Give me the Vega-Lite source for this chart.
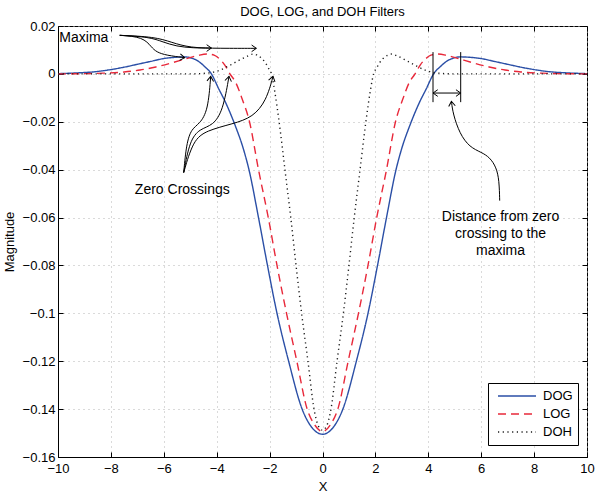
{
  "$schema": "https://vega.github.io/schema/vega-lite/v6.json",
  "width": 529,
  "height": 431,
  "autosize": {"type": "none"},
  "padding": {"left": 58, "top": 26, "right": 13, "bottom": 35},
  "background": "white",
  "title": {"text": "DOG, LOG, and DOH Filters", "fontSize": 13, "fontWeight": "normal", "font": "Liberation Sans", "color": "black", "offset": 1},
  "config": {
    "font": "Liberation Sans",
    "view": {"stroke": "black", "strokeWidth": 1},
    "axis": {"domainColor": "black", "tickColor": "black", "labelColor": "black", "titleColor": "black", "labelFontSize": 13, "titleFontSize": 13, "titleFontWeight": "normal", "gridColor": "#b5b5b5", "gridDash": [1, 4], "tickSize": -5, "labelFlush": false, "labelOverlap": false, "labelFont": "Liberation Sans", "titleFont": "Liberation Sans"}
  },
  "datasets": {
    "curves": [
      {"f": "DOG", "x": -10, "y": 0.0001}, {"f": "DOG", "x": -9.3, "y": 0.0004}, {"f": "DOG", "x": -8.6, "y": 0.0009}, {"f": "DOG", "x": -8, "y": 0.0018}, {"f": "DOG", "x": -7.5, "y": 0.0028}, {"f": "DOG", "x": -7, "y": 0.004}, {"f": "DOG", "x": -6.5, "y": 0.0052}, {"f": "DOG", "x": -6, "y": 0.0064}, {"f": "DOG", "x": -5.6, "y": 0.0069}, {"f": "DOG", "x": -5.2, "y": 0.0071}, {"f": "DOG", "x": -4.95, "y": 0.0066}, {"f": "DOG", "x": -4.7, "y": 0.0053}, {"f": "DOG", "x": -4.45, "y": 0.003}, {"f": "DOG", "x": -4.2, "y": 0}, {"f": "DOG", "x": -3.92, "y": -0.0063}, {"f": "DOG", "x": -3.67, "y": -0.0118}, {"f": "DOG", "x": -3.3, "y": -0.0216}, {"f": "DOG", "x": -3.0, "y": -0.031}, {"f": "DOG", "x": -2.78, "y": -0.04}, {"f": "DOG", "x": -2.42, "y": -0.06}, {"f": "DOG", "x": -2.08, "y": -0.08}, {"f": "DOG", "x": -1.72, "y": -0.1}, {"f": "DOG", "x": -1.28, "y": -0.12}, {"f": "DOG", "x": -0.77, "y": -0.14}, {"f": "DOG", "x": -0.4, "y": -0.1477}, {"f": "DOG", "x": 0, "y": -0.1505},
      {"f": "DOG", "x": 0.4, "y": -0.1477}, {"f": "DOG", "x": 0.77, "y": -0.14}, {"f": "DOG", "x": 1.28, "y": -0.12}, {"f": "DOG", "x": 1.72, "y": -0.1}, {"f": "DOG", "x": 2.08, "y": -0.08}, {"f": "DOG", "x": 2.42, "y": -0.06}, {"f": "DOG", "x": 2.78, "y": -0.04}, {"f": "DOG", "x": 3.0, "y": -0.031}, {"f": "DOG", "x": 3.3, "y": -0.0216}, {"f": "DOG", "x": 3.67, "y": -0.0118}, {"f": "DOG", "x": 3.92, "y": -0.0063}, {"f": "DOG", "x": 4.2, "y": 0}, {"f": "DOG", "x": 4.45, "y": 0.003}, {"f": "DOG", "x": 4.7, "y": 0.0053}, {"f": "DOG", "x": 4.95, "y": 0.0066}, {"f": "DOG", "x": 5.2, "y": 0.0071}, {"f": "DOG", "x": 5.6, "y": 0.0069}, {"f": "DOG", "x": 6, "y": 0.0064}, {"f": "DOG", "x": 6.5, "y": 0.0052}, {"f": "DOG", "x": 7, "y": 0.004}, {"f": "DOG", "x": 7.5, "y": 0.0028}, {"f": "DOG", "x": 8, "y": 0.0018}, {"f": "DOG", "x": 8.6, "y": 0.0009}, {"f": "DOG", "x": 9.3, "y": 0.0004}, {"f": "DOG", "x": 10, "y": 0.0001},
      {"f": "LOG", "x": -10, "y": 0}, {"f": "LOG", "x": -9, "y": 0.0001}, {"f": "LOG", "x": -8.3, "y": 0.0003}, {"f": "LOG", "x": -7.5, "y": 0.0008}, {"f": "LOG", "x": -6.9, "y": 0.0016}, {"f": "LOG", "x": -6.3, "y": 0.0029}, {"f": "LOG", "x": -5.7, "y": 0.0046}, {"f": "LOG", "x": -5.1, "y": 0.0065}, {"f": "LOG", "x": -4.7, "y": 0.0077}, {"f": "LOG", "x": -4.35, "y": 0.0083}, {"f": "LOG", "x": -4.1, "y": 0.0078}, {"f": "LOG", "x": -3.9, "y": 0.0063}, {"f": "LOG", "x": -3.7, "y": 0.0038}, {"f": "LOG", "x": -3.5, "y": 0}, {"f": "LOG", "x": -3.29, "y": -0.0034}, {"f": "LOG", "x": -3.04, "y": -0.0104}, {"f": "LOG", "x": -2.76, "y": -0.02}, {"f": "LOG", "x": -2.42, "y": -0.04}, {"f": "LOG", "x": -2.05, "y": -0.06}, {"f": "LOG", "x": -1.72, "y": -0.08}, {"f": "LOG", "x": -1.36, "y": -0.1}, {"f": "LOG", "x": -0.97, "y": -0.12}, {"f": "LOG", "x": -0.58, "y": -0.14}, {"f": "LOG", "x": -0.3, "y": -0.1465}, {"f": "LOG", "x": 0, "y": -0.1494},
      {"f": "LOG", "x": 0.3, "y": -0.1465}, {"f": "LOG", "x": 0.58, "y": -0.14}, {"f": "LOG", "x": 0.97, "y": -0.12}, {"f": "LOG", "x": 1.36, "y": -0.1}, {"f": "LOG", "x": 1.72, "y": -0.08}, {"f": "LOG", "x": 2.05, "y": -0.06}, {"f": "LOG", "x": 2.42, "y": -0.04}, {"f": "LOG", "x": 2.76, "y": -0.02}, {"f": "LOG", "x": 3.04, "y": -0.0104}, {"f": "LOG", "x": 3.29, "y": -0.0034}, {"f": "LOG", "x": 3.5, "y": 0}, {"f": "LOG", "x": 3.7, "y": 0.0038}, {"f": "LOG", "x": 3.9, "y": 0.0063}, {"f": "LOG", "x": 4.1, "y": 0.0078}, {"f": "LOG", "x": 4.35, "y": 0.0083}, {"f": "LOG", "x": 4.7, "y": 0.0077}, {"f": "LOG", "x": 5.1, "y": 0.0065}, {"f": "LOG", "x": 5.7, "y": 0.0046}, {"f": "LOG", "x": 6.3, "y": 0.0029}, {"f": "LOG", "x": 6.9, "y": 0.0016}, {"f": "LOG", "x": 7.5, "y": 0.0008}, {"f": "LOG", "x": 8.3, "y": 0.0003}, {"f": "LOG", "x": 9, "y": 0.0001}, {"f": "LOG", "x": 10, "y": 0},
      {"f": "DOH", "x": -10, "y": 0}, {"f": "DOH", "x": -8, "y": 0}, {"f": "DOH", "x": -6, "y": 0}, {"f": "DOH", "x": -5, "y": 0}, {"f": "DOH", "x": -4.3, "y": 0.0004}, {"f": "DOH", "x": -3.9, "y": 0.0015}, {"f": "DOH", "x": -3.5, "y": 0.0036}, {"f": "DOH", "x": -3.15, "y": 0.0057}, {"f": "DOH", "x": -2.8, "y": 0.0076}, {"f": "DOH", "x": -2.62, "y": 0.0083}, {"f": "DOH", "x": -2.48, "y": 0.0079}, {"f": "DOH", "x": -2.3, "y": 0.0065}, {"f": "DOH", "x": -2.15, "y": 0.0045}, {"f": "DOH", "x": -2.05, "y": 0.0025}, {"f": "DOH", "x": -1.93, "y": 0}, {"f": "DOH", "x": -1.81, "y": -0.007}, {"f": "DOH", "x": -1.64, "y": -0.02}, {"f": "DOH", "x": -1.42, "y": -0.04}, {"f": "DOH", "x": -1.2, "y": -0.06}, {"f": "DOH", "x": -1.0, "y": -0.08}, {"f": "DOH", "x": -0.79, "y": -0.1}, {"f": "DOH", "x": -0.55, "y": -0.12}, {"f": "DOH", "x": -0.32, "y": -0.14}, {"f": "DOH", "x": -0.15, "y": -0.1472}, {"f": "DOH", "x": 0, "y": -0.1488},
      {"f": "DOH", "x": 0.15, "y": -0.1472}, {"f": "DOH", "x": 0.32, "y": -0.14}, {"f": "DOH", "x": 0.55, "y": -0.12}, {"f": "DOH", "x": 0.79, "y": -0.1}, {"f": "DOH", "x": 1.0, "y": -0.08}, {"f": "DOH", "x": 1.2, "y": -0.06}, {"f": "DOH", "x": 1.42, "y": -0.04}, {"f": "DOH", "x": 1.64, "y": -0.02}, {"f": "DOH", "x": 1.81, "y": -0.007}, {"f": "DOH", "x": 1.93, "y": 0}, {"f": "DOH", "x": 2.05, "y": 0.0025}, {"f": "DOH", "x": 2.15, "y": 0.0045}, {"f": "DOH", "x": 2.3, "y": 0.0065}, {"f": "DOH", "x": 2.48, "y": 0.0079}, {"f": "DOH", "x": 2.62, "y": 0.0083}, {"f": "DOH", "x": 2.8, "y": 0.0076}, {"f": "DOH", "x": 3.15, "y": 0.0057}, {"f": "DOH", "x": 3.5, "y": 0.0036}, {"f": "DOH", "x": 3.9, "y": 0.0015}, {"f": "DOH", "x": 4.3, "y": 0.0004}, {"f": "DOH", "x": 5, "y": 0}, {"f": "DOH", "x": 6, "y": 0}, {"f": "DOH", "x": 8, "y": 0}, {"f": "DOH", "x": 10, "y": 0}
    ],
    "ann": [
      {"g": "m1", "i": 0, "x": -7.667, "y": 0.01611}, {"g": "m1", "i": 1, "x": -6.784, "y": 0.0154}, {"g": "m1", "i": 2, "x": -6.469, "y": 0.01121}, {"g": "m1", "i": 3, "x": -6.28, "y": 0.00912}, {"g": "m1", "i": 4, "x": -5.902, "y": 0.00774}, {"g": "m1", "i": 5, "x": -5.21, "y": 0.00678},
      {"g": "m2", "i": 0, "x": -7.667, "y": 0.01611}, {"g": "m2", "i": 1, "x": -6.533, "y": 0.0154}, {"g": "m2", "i": 2, "x": -6.03, "y": 0.01331}, {"g": "m2", "i": 3, "x": -5.524, "y": 0.01151}, {"g": "m2", "i": 4, "x": -4.896, "y": 0.0108}, {"g": "m2", "i": 5, "x": -4.2, "y": 0.0108},
      {"g": "m3", "i": 0, "x": -7.667, "y": 0.01611}, {"g": "m3", "i": 1, "x": -6.344, "y": 0.01548}, {"g": "m3", "i": 2, "x": -5.702, "y": 0.01318}, {"g": "m3", "i": 3, "x": -5.021, "y": 0.01088}, {"g": "m3", "i": 4, "x": -3.887, "y": 0.01067}, {"g": "m3", "i": 5, "x": -2.5, "y": 0.01067},
      {"g": "z1", "i": 0, "x": -5.248, "y": -0.04121}, {"g": "z1", "i": 1, "x": -5.146, "y": -0.02921}, {"g": "z1", "i": 2, "x": -4.957, "y": -0.02293}, {"g": "z1", "i": 3, "x": -4.643, "y": -0.02084}, {"g": "z1", "i": 4, "x": -4.329, "y": -0.01527}, {"g": "z1", "i": 5, "x": -4.227, "y": -0.00105},
      {"g": "z2", "i": 0, "x": -5.248, "y": -0.04121}, {"g": "z2", "i": 1, "x": -5.021, "y": -0.02782}, {"g": "z2", "i": 2, "x": -4.643, "y": -0.02293}, {"g": "z2", "i": 3, "x": -4.14, "y": -0.02155}, {"g": "z2", "i": 4, "x": -3.762, "y": -0.01527}, {"g": "z2", "i": 5, "x": -3.535, "y": -0.00105},
      {"g": "z3", "i": 0, "x": -5.248, "y": -0.04121}, {"g": "z3", "i": 1, "x": -4.896, "y": -0.02782}, {"g": "z3", "i": 2, "x": -4.389, "y": -0.02364}, {"g": "z3", "i": 3, "x": -3.384, "y": -0.02084}, {"g": "z3", "i": 4, "x": -2.628, "y": -0.01808}, {"g": "z3", "i": 5, "x": -2.121, "y": -0.01109}, {"g": "z3", "i": 6, "x": -1.871, "y": -0.00105},
      {"g": "d", "i": 0, "x": 6.699, "y": -0.05293}, {"g": "d", "i": 1, "x": 6.68, "y": -0.04456}, {"g": "d", "i": 2, "x": 6.574, "y": -0.03903}, {"g": "d", "i": 3, "x": 6.321, "y": -0.03485}, {"g": "d", "i": 4, "x": 6.008, "y": -0.03276}, {"g": "d", "i": 5, "x": 5.565, "y": -0.03063}, {"g": "d", "i": 6, "x": 5.187, "y": -0.02502}, {"g": "d", "i": 7, "x": 4.934, "y": -0.01665}, {"g": "d", "i": 8, "x": 4.874, "y": -0.01151}
    ],
    "heads": [
      {"x": -5.21, "y": 0.00678, "a": 7},
      {"x": -4.2, "y": 0.0108, "a": 0},
      {"x": -2.5, "y": 0.01067, "a": 0},
      {"x": -4.227, "y": -0.00105, "a": -85},
      {"x": -3.535, "y": -0.00105, "a": -80},
      {"x": -1.871, "y": -0.00105, "a": -75},
      {"x": 4.874, "y": -0.01151, "a": -97},
      {"x": 4.178, "y": -0.008, "a": 180},
      {"x": 5.225, "y": -0.008, "a": 0}
    ],
    "segs": [
      {"x": 4.178, "x2": 4.178, "y": 0.0091, "y2": -0.0118},
      {"x": 5.225, "x2": 5.225, "y": 0.0091, "y2": -0.0118},
      {"x": 4.178, "x2": 5.225, "y": -0.008, "y2": -0.008}
    ],
    "labelsLeft": [
      {"x": -9.95, "y": 0.015, "t": "Maxima"}
    ],
    "labelsCenter": [
      {"x": -5.3, "y": -0.0483, "t": "Zero Crossings"},
      {"x": 6.73, "y": -0.0596, "t": "Distance from zero"},
      {"x": 6.73, "y": -0.0669, "t": "crossing to the"},
      {"x": 6.73, "y": -0.0741, "t": "maxima"}
    ]
  },
  "layer": [
    {
      "data": {"name": "curves"},
      "mark": {"type": "line", "interpolate": "monotone", "strokeWidth": 1.4},
      "encoding": {
        "x": {"field": "x", "type": "quantitative", "scale": {"domain": [-10, 10], "nice": false}, "axis": {"values": [-10, -8, -6, -4, -2, 0, 2, 4, 6, 8, 10], "title": "X", "grid": true, "labelPadding": 10, "titlePadding": 5}},
        "y": {"field": "y", "type": "quantitative", "scale": {"domain": [-0.16, 0.02], "nice": false, "zero": false}, "axis": {"values": [-0.16, -0.14, -0.12, -0.1, -0.08, -0.06, -0.04, -0.02, 0, 0.02], "format": "~g", "title": "Magnitude", "grid": true, "labelPadding": 8, "titlePadding": 6}},
        "color": {"field": "f", "type": "nominal", "scale": {"domain": ["DOG", "LOG", "DOH"], "range": ["#2b4fa6", "#e8283a", "#1a1a1a"]}, "legend": {"title": null, "orient": "none", "legendX": 430, "legendY": 357, "symbolType": "stroke", "symbolSize": 1444, "symbolStrokeWidth": 1.4, "labelFontSize": 13, "labelColor": "black", "strokeColor": "black", "fillColor": "white", "padding": 5, "symbolOffset": 4, "labelOffset": 6, "clipHeight": 16, "rowPadding": 2}},
        "strokeDash": {"field": "f", "type": "nominal", "scale": {"domain": ["DOG", "LOG", "DOH"], "range": [[1, 0], [8, 5], [1.2, 3.5]]}, "legend": {"title": null, "orient": "none", "legendX": 430, "legendY": 357, "symbolType": "stroke", "symbolSize": 1444, "symbolStrokeWidth": 1.4, "labelFontSize": 13, "labelColor": "black", "strokeColor": "black", "fillColor": "white", "padding": 5, "symbolOffset": 4, "labelOffset": 6, "clipHeight": 16, "rowPadding": 2}}
      }
    },
    {
      "data": {"name": "curves"},
      "mark": {"type": "point", "opacity": 0},
      "encoding": {
        "x": {"field": "x", "type": "quantitative", "axis": {"orient": "top", "values": [-10, -8, -6, -4, -2, 0, 2, 4, 6, 8, 10], "labels": false, "title": null, "grid": false, "domain": false}},
        "y": {"field": "y", "type": "quantitative", "axis": {"orient": "right", "values": [-0.16, -0.14, -0.12, -0.1, -0.08, -0.06, -0.04, -0.02, 0, 0.02], "labels": false, "title": null, "grid": false, "domain": false}}
      }
    },
    {
      "data": {"name": "ann"},
      "mark": {"type": "line", "interpolate": "basis", "color": "black", "strokeWidth": 1},
      "encoding": {
        "x": {"field": "x", "type": "quantitative", "axis": null},
        "y": {"field": "y", "type": "quantitative", "axis": null},
        "detail": {"field": "g"},
        "order": {"field": "i"}
      }
    },
    {
      "data": {"name": "segs"},
      "mark": {"type": "rule", "color": "black", "strokeWidth": 1},
      "encoding": {
        "x": {"field": "x", "type": "quantitative", "axis": null},
        "x2": {"field": "x2"},
        "y": {"field": "y", "type": "quantitative", "axis": null},
        "y2": {"field": "y2"}
      }
    },
    {
      "data": {"name": "heads"},
      "mark": {"type": "point", "shape": "M-1,-0.7L0,0L-1,0.7", "filled": false, "stroke": "black", "strokeWidth": 1, "size": 90, "opacity": 1},
      "encoding": {
        "x": {"field": "x", "type": "quantitative", "axis": null},
        "y": {"field": "y", "type": "quantitative", "axis": null},
        "angle": {"field": "a", "type": "quantitative", "scale": null}
      }
    },
    {
      "data": {"name": "labelsLeft"},
      "mark": {"type": "text", "align": "left", "baseline": "middle", "fontSize": 14, "color": "black"},
      "encoding": {
        "x": {"field": "x", "type": "quantitative", "axis": null},
        "y": {"field": "y", "type": "quantitative", "axis": null},
        "text": {"field": "t"}
      }
    },
    {
      "data": {"name": "labelsCenter"},
      "mark": {"type": "text", "align": "center", "baseline": "middle", "fontSize": 14, "color": "black"},
      "encoding": {
        "x": {"field": "x", "type": "quantitative", "axis": null},
        "y": {"field": "y", "type": "quantitative", "axis": null},
        "text": {"field": "t"}
      }
    }
  ],
  "resolve": {"axis": {"x": "independent", "y": "independent"}}
}
